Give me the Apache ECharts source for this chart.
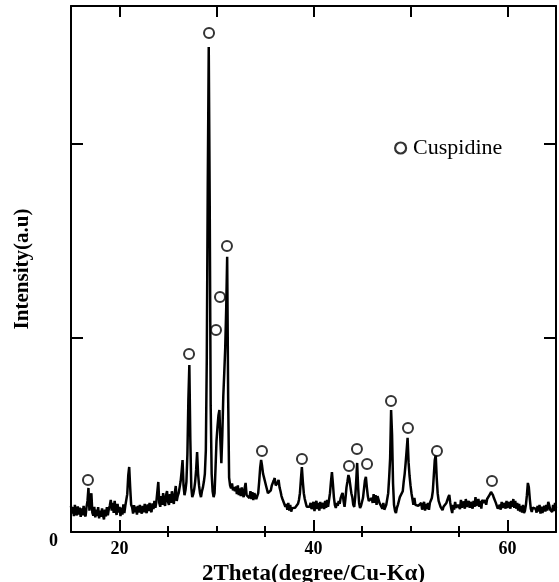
<!DOCTYPE html>
<html>
<head>
<meta charset="utf-8">
<script src="https://cdn.jsdelivr.net/npm/echarts@6/dist/echarts.min.js"></script>
<style>
  html, body { margin: 0; padding: 0; background: #fff; }
  #chart-container { width: 559px; height: 582px; }
</style>
</head>
<body>
<div id="chart-container"></div>
<script>
// XRD pattern, every 0.1 degree from 15 to 65
var thetaStart = 15;
var thetaStep = 0.1;
var intensity = [
  135, 95, 128, 82, 140, 98, 86, 132, 90, 125,
  78, 122, 86, 135, 94, 80, 128, 160, 227, 110,
  150, 200, 100, 85, 130, 75, 115, 82, 128, 70,
  110, 78, 122, 85, 65, 115, 80, 128, 86, 120,
  135, 165, 110, 150, 98, 160, 115, 88, 145, 100,
  130, 82, 125, 90, 142, 98, 135, 130, 195, 290,
  335, 230, 140, 128, 95, 138, 102, 130, 90, 135,
  100, 140, 108, 95, 135, 102, 145, 110, 98, 142,
  108, 150, 115, 102, 148, 118, 160, 125, 155, 160,
  258, 150, 130, 185, 140, 200, 150, 135, 190, 211,
  155, 140, 195, 150, 210, 165, 145, 200, 237, 160,
  185, 200, 230, 260, 310, 371, 240, 190, 215, 260,
  400, 680, 861, 480, 230, 180, 195, 220, 260, 320,
  412, 300, 240, 200, 180, 210, 230, 260, 300, 420,
  900, 1800, 2500, 1700, 650, 300, 210, 180, 200, 330,
  470, 540, 600, 629, 470, 355, 500, 700, 820, 950,
  1150, 1418, 700, 280, 240, 225, 250, 215, 230, 210,
  235, 195, 240, 190, 225, 185, 230, 195, 180, 225,
  253, 190, 200, 200, 175, 210, 170, 205, 165, 200,
  185, 170, 180, 200, 260, 330, 371, 340, 300, 280,
  260, 240, 220, 200, 210, 195, 215, 240, 230, 265,
  278, 240, 230, 255, 268, 230, 210, 185, 170, 165,
  160, 130, 145, 115, 150, 110, 140, 105, 123, 115,
  130, 125, 135, 120, 145, 165, 200, 270, 335, 260,
  200, 170, 150, 130, 135, 125, 130, 150, 118, 140,
  155, 108, 145, 160, 118, 150, 110, 155, 122, 135,
  150, 118, 160, 125, 165, 130, 165, 200, 260, 309,
  250, 180, 140, 124, 150, 135, 160, 145, 175, 190,
  201, 160, 130, 175, 230, 260, 294, 275, 268, 200,
  180, 140, 129, 180, 260, 356, 230, 150, 124, 135,
  140, 175, 220, 265, 284, 230, 185, 160, 170, 150,
  175, 150, 195, 150, 190, 140, 185, 191, 150, 155,
  140, 120, 150, 115, 113, 140, 150, 200, 280, 380,
  629, 500, 250, 140, 110, 98, 125, 140, 160, 180,
  190, 175, 210, 260, 300, 356, 420, 485, 360, 290,
  240, 200, 170, 140, 175, 140, 140, 135, 135, 125,
  130, 150, 115, 135, 155, 110, 145, 118, 150, 114,
  150, 140, 175, 210, 290, 370, 397, 280, 200, 160,
  150, 130, 120, 113, 130, 140, 125, 150, 165, 180,
  191, 150, 120, 98, 140, 115, 155, 125, 130, 140,
  150, 118, 165, 125, 135, 158, 120, 170, 130, 135,
  160, 125, 155, 155, 120, 160, 130, 180, 135, 145,
  170, 130, 160, 120, 165, 155, 150, 165, 140, 170,
  165, 180, 195, 206, 200, 190, 175, 165, 150, 135,
  120, 113, 140, 115, 155, 125, 130, 150, 120, 160,
  125, 135, 155, 120, 160, 130, 170, 125, 160, 120,
  150, 110, 145, 105, 135, 100, 140, 98, 110, 140,
  190, 253, 230, 170, 120, 103, 125, 115, 130, 120,
  100, 135, 105, 140, 95, 130, 98, 120, 135, 105,
  140, 110, 155, 139, 115, 120, 103, 140, 108, 150,
  125
];

// cuspidine peak markers (circles above the peaks)
var markerTheta = [16.75, 27.17, 29.23, 29.95, 30.36, 31.08, 34.69, 38.81, 43.66, 44.48, 45.52, 47.99, 49.74, 52.73, 58.4];
var markerIntensity = [268, 918, 2572, 1041, 1211, 1474, 418, 376, 340, 428, 350, 675, 536, 418, 263];

var xLabelValues = [20, 40, 60];
var xMinorTicks = [25, 30, 35, 45, 50, 55];
var topMajorTicks = [20, 30, 40, 50, 60];
var topMinorTicks = [25, 35, 45, 55];

var serif = '"Liberation Serif", "DejaVu Serif", serif';

function buildLine() {
  var out = [];
  for (var i = 0; i < intensity.length; i++) {
    out.push([+(thetaStart + i * thetaStep).toFixed(2), intensity[i]]);
  }
  return out;
}

function buildMarkers() {
  return markerTheta.map(function (t, i) { return [t, markerIntensity[i]]; });
}

function xAxisBase(extra) {
  var a = {
    type: 'value',
    min: 15,
    max: 65,
    interval: 5,
    splitLine: { show: false },
    axisLine: { show: false },
    axisLabel: { show: false },
    axisTick: { show: false }
  };
  for (var k in extra) a[k] = extra[k];
  return a;
}

var myChart = echarts.init(document.getElementById('chart-container'));

var option = {
  animation: false,
  backgroundColor: '#fff',
  grid: { left: 71, right: 3, top: 6, bottom: 50, containLabel: false, outerBoundsMode: 'none' },
  legend: {
    left: 389,
    top: 132,
    itemWidth: 11,
    itemHeight: 11,
    itemGap: 8,
    data: [{ name: 'Cuspidine', icon: 'circle' }],
    itemStyle: { color: 'rgba(0,0,0,0)', borderColor: '#000', borderWidth: 2.2 },
    textStyle: { fontFamily: serif, fontSize: 22, color: '#000', padding: [0, 0, 0, 2] }
  },
  xAxis: [
    xAxisBase({
      position: 'bottom',
      name: '2Theta(degree/Cu-K\u03b1)',
      nameLocation: 'middle',
      nameGap: 24,
      nameTextStyle: { fontFamily: serif, fontWeight: 'bold', fontSize: 23, color: '#000' },
      axisLine: { show: true, onZero: false, lineStyle: { color: '#000', width: 2 } },
      axisTick: { show: true, inside: true, length: 12, customValues: xLabelValues, lineStyle: { color: '#000', width: 2 } },
      axisLabel: {
        show: true, margin: 8, customValues: xLabelValues,
        fontFamily: serif, fontWeight: 'bold', fontSize: 18, color: '#000'
      }
    }),
    xAxisBase({
      position: 'bottom',
      axisTick: { show: true, inside: true, length: 6, customValues: xMinorTicks, lineStyle: { color: '#000', width: 2 } }
    }),
    xAxisBase({
      position: 'top',
      axisLine: { show: true, onZero: false, lineStyle: { color: '#000', width: 2 } },
      axisTick: { show: true, inside: true, length: 11, customValues: topMajorTicks, lineStyle: { color: '#000', width: 2 } }
    }),
    xAxisBase({
      position: 'top',
      axisTick: { show: true, inside: true, length: 5, customValues: topMinorTicks, lineStyle: { color: '#000', width: 2 } }
    })
  ],
  yAxis: [
    {
      type: 'value',
      position: 'left',
      min: 0,
      max: 2711,
      interval: 1000,
      name: 'Intensity(a.u)',
      nameLocation: 'middle',
      nameGap: 38,
      nameTextStyle: { fontFamily: serif, fontWeight: 'bold', fontSize: 21, color: '#000' },
      splitLine: { show: false },
      axisLine: { show: true, onZero: false, lineStyle: { color: '#000', width: 2 } },
      axisTick: { show: true, inside: true, length: 12, lineStyle: { color: '#000', width: 2 } },
      axisLabel: {
        margin: 13,
        verticalAlign: 'top',
        fontFamily: serif, fontWeight: 'bold', fontSize: 18, color: '#000',
        formatter: function (v) { return v === 0 ? '0' : ''; }
      }
    },
    {
      type: 'value',
      position: 'right',
      min: 0,
      max: 2711,
      interval: 1000,
      splitLine: { show: false },
      axisLine: { show: true, onZero: false, lineStyle: { color: '#000', width: 2 } },
      axisTick: { show: true, inside: true, length: 12, lineStyle: { color: '#000', width: 2 } },
      axisLabel: { show: false }
    }
  ],
  series: [
    {
      name: 'pattern',
      type: 'line',
      xAxisIndex: 0,
      yAxisIndex: 0,
      data: buildLine(),
      showSymbol: false,
      sampling: null,
      lineStyle: { color: '#000', width: 2.5 },
      z: 2
    },
    {
      name: 'Cuspidine',
      type: 'scatter',
      xAxisIndex: 0,
      yAxisIndex: 0,
      data: buildMarkers(),
      symbol: 'emptyCircle',
      symbolSize: 10,
      itemStyle: { color: '#000', borderColor: '#000', borderWidth: 2.5 },
      z: 3
    }
  ]
};

myChart.setOption(option);
</script>
</body>
</html>
